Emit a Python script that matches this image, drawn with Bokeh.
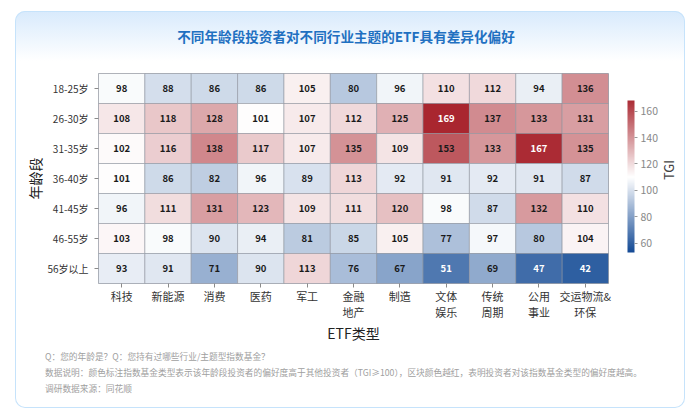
from bokeh.plotting import figure
from bokeh.models import (ColumnDataSource, LinearColorMapper, ColorBar, FixedTicker,
                          FactorRange, Div, Spacer)
from bokeh.layouts import column, row
from bokeh.transform import transform
from bokeh.embed import file_html
from bokeh.resources import INLINE

# ---------------- data ----------------
ages = ["18-25岁", "26-30岁", "31-35岁", "36-40岁", "41-45岁", "46-55岁", "56岁以上"]
etfs = ["科技", "新能源", "消费", "医药", "军工", "金融\n地产", "制造", "文体\n娱乐", "传统\n周期", "公用\n事业", "交运物流&\n环保"]
tgi = [
    [98, 88, 86, 86, 105, 80, 96, 110, 112, 94, 136],
    [108, 118, 128, 101, 107, 112, 125, 169, 137, 133, 131],
    [102, 116, 138, 117, 107, 135, 109, 153, 133, 167, 135],
    [101, 86, 82, 96, 89, 113, 92, 91, 92, 91, 87],
    [96, 111, 131, 123, 109, 111, 120, 98, 87, 132, 110],
    [103, 98, 90, 94, 81, 85, 105, 77, 97, 80, 104],
    [93, 91, 71, 90, 113, 76, 67, 51, 69, 47, 42],
]
cbar_ticks = [60, 80, 100, 120, 140, 160]
title_text = "不同年龄段投资者对不同行业主题的ETF具有差异化偏好"
notes = [
    "Q：您的年龄是？Q：您持有过哪些行业/主题型指数基金？",
    "数据说明：颜色标注指数基金类型表示该年龄段投资者的偏好度高于其他投资者（TGI≥100），区块颜色越红，表明投资者对该指数基金类型的偏好度越高。",
    "调研数据来源：同花顺",
]

FONT = "Noto Sans CJK SC"

# ---------------- palette ----------------
def lerp(c1, c2, t):
    return "#%02x%02x%02x" % tuple(int(round(a + (b - a) * t)) for a, b in zip(c1, c2))

blue = (7, 65, 144)
white = (255, 255, 255)
red = (169, 38, 47)
palette = [lerp(blue, white, i / 127) for i in range(128)] + [lerp(white, red, i / 127) for i in range(128)]

mapper = LinearColorMapper(palette=palette, low=31, high=169)
cbar_mapper = LinearColorMapper(palette=palette, low=50, high=170)

xs, ys, vals, tcols = [], [], [], []
for i, a in enumerate(ages):
    for j, e in enumerate(etfs):
        v = tgi[i][j]
        xs.append(e)
        ys.append(a)
        vals.append(v)
        tcols.append("#ffffff" if (v >= 160 or v <= 55) else "#1a1a1a")
source = ColumnDataSource(dict(etf=xs, age=ys, val=vals, txt=[str(v) for v in vals], tcol=tcols))

# card geometry (page px): x 15..685, y 11..408
CARD_W, CARD_H = 670, 397
TITLE_H = 45
FIG_W, FIG_H = 650, 293
TGI_W = CARD_W - FIG_W
NOTES_H = CARD_H - TITLE_H - FIG_H

p = figure(width=FIG_W, height=FIG_H, output_backend="svg", toolbar_location=None,
           x_range=FactorRange(factors=etfs), y_range=FactorRange(factors=list(reversed(ages))),
           min_border_left=83, min_border_right=FIG_W - 593, min_border_top=17, min_border_bottom=66,
           tools="", margin=0, sizing_mode="fixed")
p.background_fill_color = None
p.border_fill_color = None
p.outline_line_color = "#a8adb5"
p.grid.visible = False

# ---------------- heatmap ----------------
p.rect(x="etf", y="age", width=1, height=1, source=source,
       fill_color=transform("val", mapper), line_color="#8a909a", line_alpha=0.55, line_width=1)
p.text(x="etf", y="age", text="txt", source=source, text_color="tcol",
       text_align="center", text_baseline="middle", text_font_size="9.5px",
       text_font_style="bold", text_font={"value": FONT})

# ---------------- axes ----------------
for ax in (p.xaxis, p.yaxis):
    ax.axis_line_color = None
    ax.major_tick_in = 0
    ax.major_tick_out = 4
    ax.major_tick_line_color = "#8a8a8a"
    ax.minor_tick_line_color = None
    ax.major_label_text_font = FONT
    ax.major_label_text_color = "#333333"
    ax.axis_label_text_font = FONT
    ax.axis_label_text_font_style = "normal"
    ax.axis_label_text_color = "#222222"
    ax.axis_label_text_font_size = "14px"

p.xaxis.major_label_text_font_size = "11px"
p.xaxis.major_label_text_line_height = 1.0
p.xaxis.major_label_standoff = 0
p.xaxis.axis_label = "ETF类型"
p.xaxis.axis_label_standoff = 0
p.yaxis.major_label_text_font_size = "10px"
p.yaxis.major_label_standoff = 6
p.yaxis.axis_label = "年龄段"
p.yaxis.axis_label_standoff = -1

# ---------------- color bar ----------------
cb = ColorBar(color_mapper=cbar_mapper, ticker=FixedTicker(ticks=cbar_ticks),
              location=(627 - 98, 283 - 252), width=7, height=152, padding=0, margin=0,
              display_low=53, display_high=168,
              major_tick_in=0, major_tick_out=3, major_tick_line_color="#999999",
              label_standoff=3, major_label_text_font_size="10.5px",
              major_label_text_color="#888888", major_label_text_font=FONT,
              background_fill_alpha=0, border_line_color=None, bar_line_color=None)
p.add_layout(cb)

# ---------------- title, TGI label & notes ----------------
title_div = Div(
    text=f'<div style="width:{CARD_W - 8}px;text-align:center;padding-top:15px;'
         f'font-family:\'{FONT}\';font-size:13.6px;font-weight:bold;color:#1f70c1;line-height:20px;">'
         f'{title_text}</div>',
    width=CARD_W, height=TITLE_H, margin=0, sizing_mode="fixed")

tgi_div = Div(
    text=f'<div style="position:absolute;left:-23px;top:104px;width:54px;height:20px;line-height:20px;'
         f'text-align:center;transform:rotate(-90deg);font-family:\'{FONT}\';font-size:13px;color:#444444;">TGI</div>',
    width=TGI_W, height=FIG_H, margin=0, sizing_mode="fixed", styles={"overflow": "visible"})

notes_html = "".join(
    f'<div style="height:16px;line-height:16px;white-space:nowrap;">{t}</div>' for t in notes)
notes_div = Div(
    text=f'<div style="padding-left:30px;padding-top:0px;font-family:\'{FONT}\';font-size:8.7px;color:#a0a0a0;">'
         f'{notes_html}</div>',
    width=CARD_W, height=NOTES_H, margin=0, sizing_mode="fixed")

card = column(
    title_div,
    row(p, tgi_div, spacing=0, margin=0, width=CARD_W, height=FIG_H, sizing_mode="fixed"),
    notes_div,
    width=CARD_W, height=CARD_H, spacing=0, margin=0, sizing_mode="fixed",
    styles={
        "border-radius": "10px",
        "box-shadow": "inset 0 0 0 1px #c6e3fb",
        "background": "linear-gradient(to bottom, #d8eafc 0px, #ffffff 50px, #ffffff 100%)",
    },
)

layout = column(Spacer(height=11, width=10, margin=0, sizing_mode="fixed"),
                row(Spacer(width=15, height=10, margin=0, sizing_mode="fixed"), card,
                    spacing=0, margin=0, sizing_mode="fixed", width=15 + CARD_W, height=CARD_H),
                spacing=0, margin=0, sizing_mode="fixed", width=15 + CARD_W, height=11 + CARD_H)

open("out.html", "w").write(file_html(layout, INLINE))
